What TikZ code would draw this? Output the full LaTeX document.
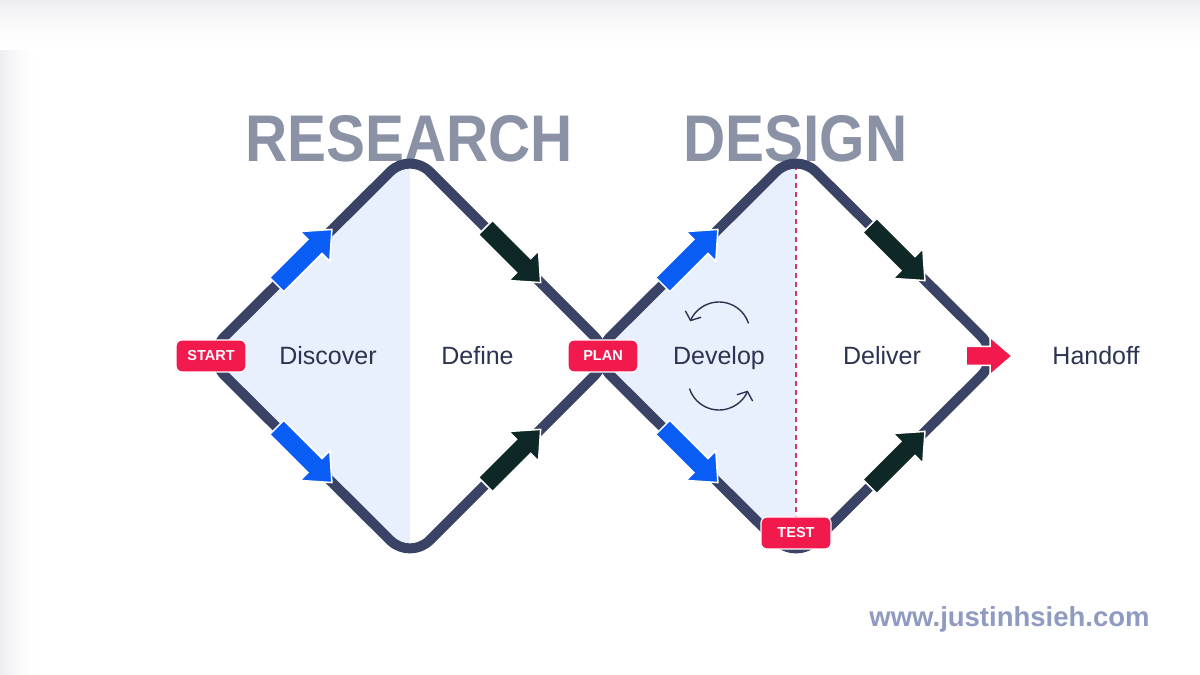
\documentclass[tikz,border=0pt]{standalone}
\usepackage{fontspec}
\setmainfont{Liberation Sans}
\newfontfamily\titlefont{Liberation Sans}[FakeStretch=0.885]
\usetikzlibrary{calc,arrows.meta}
\definecolor{navy}{HTML}{3A4365}
\definecolor{textnavy}{HTML}{2B3450}
\definecolor{titlegray}{HTML}{8B92A5}
\definecolor{badgered}{HTML}{F21A4C}
\definecolor{arrowblue}{HTML}{0A5DF4}
\definecolor{arrowdark}{HTML}{0E2727}
\definecolor{lightfill}{HTML}{E8F0FD}
\definecolor{urlcol}{HTML}{8F9BC0}
\definecolor{bggray}{HTML}{EDEDF2}
\definecolor{dashred}{HTML}{D23A5E}
\begin{document}
\begin{tikzpicture}[x=1pt,y=1pt,
  loopline/.style={draw=navy, line width=10pt, rounded corners=28pt, line join=round},
  title/.style={font=\titlefont\fontsize{66}{66}\selectfont\bfseries, text=titlegray, inner sep=0pt},
  lbl/.style={font=\fontsize{25}{25}\selectfont, text=textnavy, anchor=base, inner sep=0pt},
  badge/.style={fill=badgered, draw=white, line width=1.2pt, rounded corners=6pt, minimum width=70pt, minimum height=32pt, inner sep=0pt, text=white, font=\fontsize{14.5}{14.5}\selectfont\bfseries},
  blockarrow/.pic={\path[pic actions] (0,-10) -- (54,-10) -- (54,-21) -- (78,0) -- (54,21) -- (54,10) -- (0,10) -- cycle;},
  handarrow/.pic={\path[pic actions] (0,-9.5) -- (24,-9.5) -- (24,-19) -- (46,0) -- (24,19) -- (24,9.5) -- (0,9.5) -- cycle;},
  bluearr/.style={fill=arrowblue, draw=white, line width=1.5pt, line join=miter},
  darkarr/.style={fill=arrowdark, draw=white, line width=1.5pt, line join=miter},
  cyc/.style={draw=textnavy, line width=1.4pt, -{Straight Barb[length=7pt, width=17pt]}},
]
\useasboundingbox (0,0) rectangle (1200,675);
% background with soft edges
\fill[white] (0,0) rectangle (1200,675);
\foreach \i in {0,...,19}{
  \pgfmathtruncatemacro\shadeamt{100*(1-\i/20)^2}
  \fill[bggray!\shadeamt!white] (0,{675-2.5*\i}) rectangle (1200,{672.5-2.5*\i});
  \fill[bggray!\shadeamt!white] ({2*\i},0) rectangle ({2*\i+2},{672.5-2.5*\i});
}

% key points
\coordinate (L1) at (205,319);
\coordinate (T1) at (410,523);
\coordinate (R1) at (614,319);
\coordinate (B1) at (410,115);
\coordinate (L2) at (591,319);
\coordinate (T2) at (796,523);
\coordinate (R2) at (1001,319);
\coordinate (B2) at (796,115);

% light fills
\begin{scope}
  \clip (0,0) rectangle (410,675);
  \fill[lightfill, rounded corners=28pt] (L1) -- (T1) -- (R1) -- (B1) -- cycle;
\end{scope}
\begin{scope}
  \clip (560,0) rectangle (796,675);
  \fill[lightfill, rounded corners=28pt] (L2) -- (T2) -- (R2) -- (B2) -- cycle;
\end{scope}

% titles
\node[title] (research) at (409,536.5) {RESEARCH};
\node[title] (design) at (795.5,536.5) {DESIGN};

% dashed line
\coordinate (dtop) at (796,510);
\node[badge] (test) at (796,142) {TEST};
\draw[dashred, line width=1.5pt, dash pattern=on 5pt off 4pt] (dtop) -- (test.north);

% the two loops
\draw[loopline] (L1) -- (T1) -- (R1) -- (B1) -- cycle;
\draw[loopline] (L2) -- (T2) -- (R2) -- (B2) -- cycle;

% arrows on the loops
\pic[bluearr, rotate=45] at ($(L1)!0.35!(T1)$) {blockarrow};
\pic[bluearr, rotate=-45] at ($(L1)!0.35!(B1)$) {blockarrow};
\pic[darkarr, rotate=-45] at ($(T1)!0.37!(R1)$) {blockarrow};
\pic[darkarr, rotate=45] at ($(B1)!0.37!(R1)$) {blockarrow};
\pic[bluearr, rotate=45] at ($(L2)!0.35!(T2)$) {blockarrow};
\pic[bluearr, rotate=-45] at ($(L2)!0.35!(B2)$) {blockarrow};
\pic[darkarr, rotate=-45] at ($(T2)!0.36!(R2)$) {blockarrow};
\pic[darkarr, rotate=45] at ($(B2)!0.36!(R2)$) {blockarrow};

% handoff arrow
\pic[fill=badgered, draw=white, line width=1.5pt, line join=miter] at (966,319) {handarrow};

% badges
\node[badge] (start) at (211,319) {START};
\node[badge] (plan) at (603,319) {PLAN};
\node[badge] at (796,142) {TEST};

% labels
\node[lbl] (discover) at (328,310) {Discover};
\node[lbl] (define) at (477.5,310) {Define};
\node[lbl] (develop) at (719,310) {Develop};
\node[lbl] (deliver) at (882,310) {Deliver};
\node[lbl] (handoff) at (1096,310) {Handoff};

% cycle arrows
\draw[cyc] ($(719,342)+(18:31)$) arc[start angle=18, end angle=158, radius=31];
\draw[cyc] ($(719,296)+(198:31)$) arc[start angle=198, end angle=338, radius=31];

% url
\node[font=\fontsize{27.5}{27.5}\selectfont\bfseries, text=urlcol, anchor=base, inner sep=0pt] (url) at (1009.5,48) {www.justinhsieh.com};
\end{tikzpicture}
\end{document}
